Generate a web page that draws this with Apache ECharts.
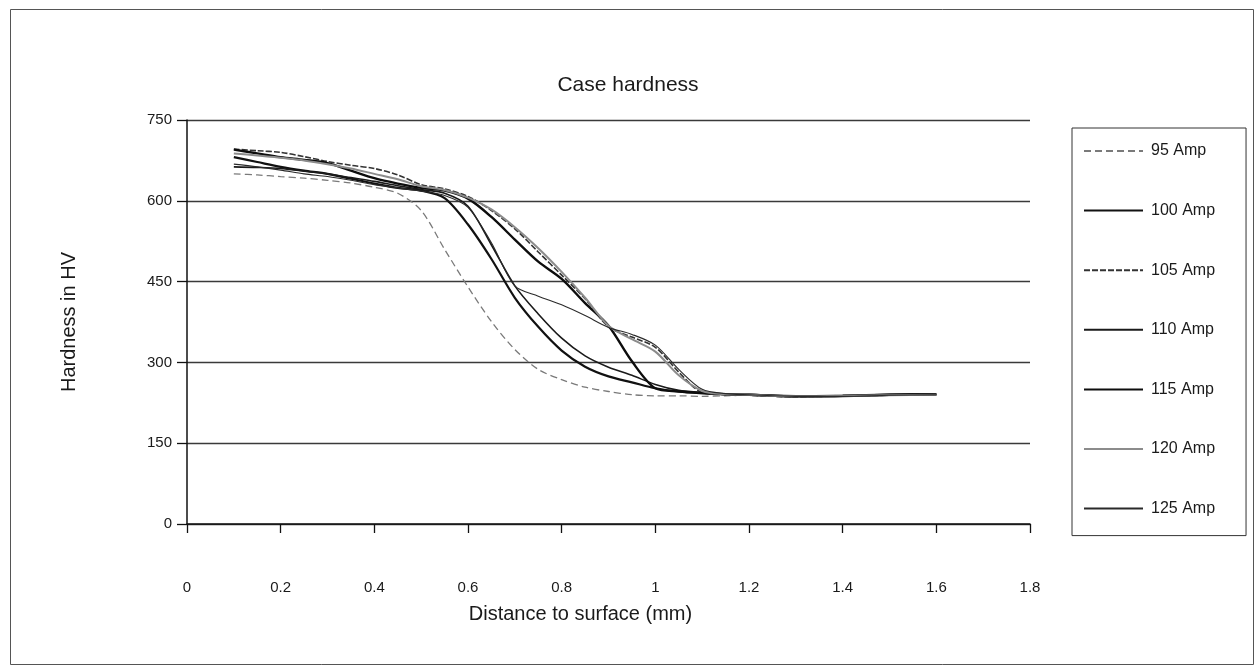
<!DOCTYPE html>
<html>
<head>
<meta charset="utf-8">
<title>Case hardness</title>
<script src="https://cdn.jsdelivr.net/npm/echarts@6/dist/echarts.min.js"></script>
<style>
  html, body { margin: 0; padding: 0; background: #fff; }
  #chart { width: 1256px; height: 667px; }
</style>
</head>
<body>
<div id="chart"></div>
<script>
// Distance below the surface (mm) at which hardness was measured
const distance = [0.10, 0.15, 0.20, 0.25, 0.30, 0.35, 0.40, 0.45, 0.50, 0.55, 0.60, 0.65, 0.70, 0.75,
                  0.80, 0.85, 0.90, 0.95, 1.00, 1.05, 1.10, 1.15, 1.20, 1.30, 1.40, 1.50, 1.60];

// Vickers hardness (HV) for each welding current
const amp95  = [650, 648, 645, 642, 638, 633, 625, 614, 582, 510, 440, 376, 324, 287, 268, 254, 246, 240, 238, 238, 237, 238, 239, 236, 238, 239, 240];
const amp100 = [681, 672, 663, 656, 650, 641, 632, 624, 619, 605, 556, 492, 420, 366, 322, 292, 274, 263, 252, 246, 243, 241, 240, 237, 238, 240, 241];
const amp105 = [696, 693, 690, 682, 673, 666, 660, 648, 630, 622, 608, 582, 548, 505, 462, 418, 366, 347, 328, 282, 244, 240, 239, 236, 238, 239, 240];
const amp110 = [663, 662, 660, 655, 650, 643, 636, 628, 621, 614, 590, 518, 442, 390, 345, 312, 291, 276, 259, 248, 244, 241, 240, 238, 237, 239, 240];
const amp115 = [695, 688, 681, 676, 670, 656, 642, 632, 624, 619, 604, 570, 528, 487, 455, 410, 368, 302, 252, 246, 243, 241, 240, 237, 238, 240, 241];
const amp120 = [688, 684, 680, 675, 668, 660, 650, 640, 627, 620, 606, 584, 551, 512, 468, 420, 368, 343, 320, 276, 247, 241, 240, 237, 238, 239, 240];
const amp125 = [668, 663, 657, 650, 645, 638, 630, 624, 618, 610, 588, 522, 442, 423, 407, 387, 365, 352, 332, 287, 250, 242, 240, 237, 237, 239, 240];

const seriesNames = ['95 Amp', '100 Amp', '105 Amp', '110 Amp', '115 Amp', '120 Amp', '125 Amp'];
const seriesValues = [amp95, amp100, amp105, amp110, amp115, amp120, amp125];

// Axis tick labels
const xTicks = ['0', '0.2', '0.4', '0.6', '0.8', '1', '1.2', '1.4', '1.6', '1.8'];
const yTicks = [0, 150, 300, 450, 600, 750];

// Line appearance per series (grey-scale print style)
const lineStyles = [
  { color: '#7a7a7a', width: 1.3, type: [7, 4] },
  { color: '#111111', width: 2.2, type: 'solid' },
  { color: '#333333', width: 1.6, type: [6, 2] },
  { color: '#1a1a1a', width: 1.6, type: 'solid' },
  { color: '#0d0d0d', width: 2.4, type: 'solid' },
  { color: '#8c8c8c', width: 2.0, type: 'solid' },
  { color: '#2a2a2a', width: 1.1, type: 'solid' }
];

const FONT = '"Liberation Sans", Arial, sans-serif';

const series = seriesNames.map((name, k) => ({
  name: name,
  type: 'line',
  data: distance.map((d, i) => [d, seriesValues[k][i]]),
  smooth: 0.3,
  showSymbol: false,
  symbol: 'none',
  lineStyle: lineStyles[k],
  itemStyle: { color: lineStyles[k].color },
  emphasis: { disabled: true },
  z: 3
}));

const chart = echarts.init(document.getElementById('chart'), null, { renderer: 'canvas' });

chart.setOption({
  animation: false,
  backgroundColor: '#ffffff',
  textStyle: { fontFamily: FONT },
  title: {
    text: 'Case hardness',
    left: 'center',
    top: 70,
    textStyle: { fontFamily: FONT, fontSize: 21, fontWeight: 'normal', color: '#1a1a1a' }
  },
  grid: { left: 187, right: 226, top: 120, bottom: 143, containLabel: false },
  legend: {
    orient: 'vertical',
    left: 1072,
    top: 128,
    data: seriesNames,
    itemWidth: 59,
    itemHeight: 14,
    itemGap: 43.6,
    padding: [15, 31, 19, 11],
    borderColor: '#333',
    borderWidth: 1,
    // only the line sample is shown for each entry, no marker
    itemStyle: { opacity: 0 },
    textStyle: { fontFamily: FONT, fontSize: 16, color: '#1a1a1a', padding: [0, 0, 0, 3] },
    selectedMode: false
  },
  xAxis: {
    type: 'value',
    min: 0,
    max: 1.8,
    interval: 0.2,
    name: 'Distance to surface (mm)',
    nameLocation: 'middle',
    nameGap: 80,
    nameTextStyle: { fontFamily: FONT, fontSize: 20, color: '#1a1a1a', padding: [0, 56, 0, 0] },
    axisLine: { show: true, onZero: false, lineStyle: { color: '#111', width: 1.5 } },
    axisTick: { show: true, inside: false, length: 9, lineStyle: { color: '#111', width: 1.3 } },
    axisLabel: {
      margin: 56,
      fontFamily: FONT,
      fontSize: 15,
      color: '#1a1a1a',
      formatter: (v) => xTicks[Math.round(v / 0.2)]
    },
    splitLine: { show: false }
  },
  yAxis: {
    type: 'value',
    min: 0,
    max: 750,
    interval: 150,
    name: 'Hardness in HV',
    nameLocation: 'middle',
    nameGap: 108,
    nameTextStyle: { fontFamily: FONT, fontSize: 20, color: '#1a1a1a' },
    axisLine: { show: true, lineStyle: { color: '#111', width: 1.5 } },
    axisTick: { show: true, inside: false, length: 10, lineStyle: { color: '#111', width: 1.3 } },
    axisLabel: {
      margin: 15,
      fontFamily: FONT,
      fontSize: 15,
      color: '#1a1a1a',
      formatter: (v) => String(yTicks[Math.round(v / 150)])
    },
    splitLine: { show: true, lineStyle: { color: '#3a3a3a', width: 1.3 } }
  },
  graphic: [
    {
      type: 'rect',
      left: 8,
      top: 7,
      shape: { width: 1243, height: 655 },
      style: { fill: 'none', stroke: '#555', lineWidth: 1 },
      silent: true,
      z: -1
    }
  ],
  series: series
});
</script>
</body>
</html>
